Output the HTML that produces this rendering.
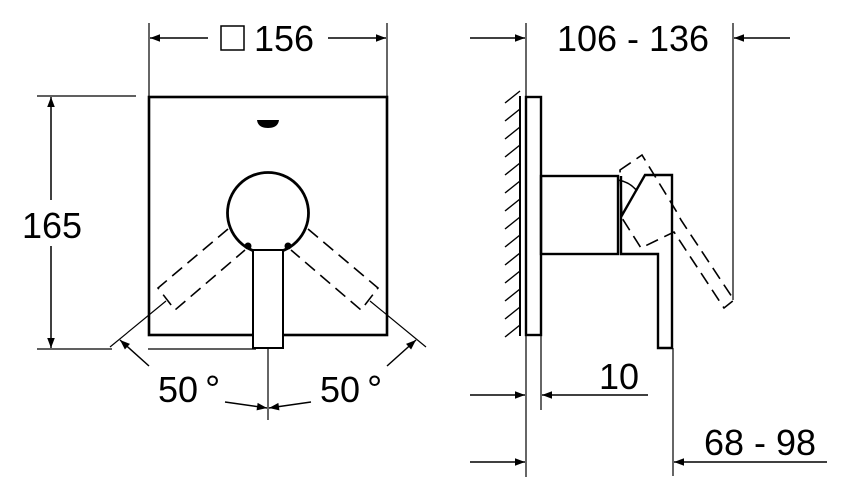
<!DOCTYPE html>
<html><head><meta charset="utf-8"><style>
html,body{margin:0;padding:0;background:#fff;}
svg{display:block;}
text{font-family:"Liberation Sans",sans-serif;fill:#000;}
</style></head><body>
<svg width="850" height="501" viewBox="0 0 850 501" xmlns="http://www.w3.org/2000/svg">
<defs>
<marker id="a" viewBox="0 0 10 10" refX="10" refY="5" markerWidth="28" markerHeight="10" markerUnits="userSpaceOnUse" orient="auto"><path d="M0,1.2 L10,5 L0,8.8 z" fill="#000"/></marker>
</defs>
<g stroke="#000" fill="none">
<line x1="149" y1="23" x2="149" y2="97" stroke-width="1.2"/>
<line x1="387" y1="23" x2="387" y2="97" stroke-width="1.2"/>
<line x1="208" y1="38" x2="150" y2="38" stroke-width="1.5" marker-end="url(#a)"/>
<line x1="328" y1="38" x2="386" y2="38" stroke-width="1.5" marker-end="url(#a)"/>
<rect x="221" y="26" width="23" height="24" stroke-width="1.5"/>
<line x1="37" y1="96" x2="136" y2="96" stroke-width="1.2"/>
<line x1="37" y1="349" x2="112" y2="349" stroke-width="1.2"/>
<line x1="148" y1="349" x2="256" y2="349" stroke-width="1.2"/>
<line x1="51" y1="200" x2="51" y2="97" stroke-width="1.5" marker-end="url(#a)"/>
<line x1="51" y1="246" x2="51" y2="348" stroke-width="1.5" marker-end="url(#a)"/>
<rect x="149" y="97" width="238" height="238" stroke-width="2.6"/>
<path d="M257,120 h22 q-1,8 -11,8 q-10,0 -11,-8z" fill="#000" stroke="none"/>
<circle cx="268" cy="213" r="40.5" stroke-width="2.8"/>
<rect x="253" y="250" width="30" height="98" fill="#fff" stroke-width="2"/>
<circle cx="248" cy="246" r="3.5" fill="#000" stroke="none"/>
<circle cx="288" cy="246" r="3.5" fill="#000" stroke="none"/>
<g stroke-dasharray="13,7" stroke-width="1.6">
<path d="M228,229 L158,288 L175,310 L245,250"/>
<path d="M308,229 L378,288 L361,310 L291,250"/>
</g>
<line x1="110" y1="347" x2="166" y2="301" stroke-width="1.2"/>
<line x1="426" y1="347" x2="370" y2="301" stroke-width="1.2"/>
<line x1="149" y1="366" x2="120" y2="340" stroke-width="1.5" marker-end="url(#a)"/>
<line x1="387" y1="366" x2="416" y2="340" stroke-width="1.5" marker-end="url(#a)"/>
<line x1="268" y1="348" x2="268" y2="420" stroke-width="1.2"/>
<line x1="225" y1="402" x2="267" y2="408" stroke-width="1.5" marker-end="url(#a)"/>
<line x1="311" y1="402" x2="269" y2="408" stroke-width="1.5" marker-end="url(#a)"/>

<line x1="526" y1="23" x2="526" y2="477" stroke-width="1.2"/>
<line x1="733" y1="23" x2="733" y2="300" stroke-width="1.2"/>
<line x1="541" y1="335" x2="541" y2="410" stroke-width="1.2"/>
<line x1="673" y1="348" x2="673" y2="476" stroke-width="1.2"/>
<line x1="470" y1="38" x2="525" y2="38" stroke-width="1.5" marker-end="url(#a)"/>
<line x1="790" y1="38" x2="734" y2="38" stroke-width="1.5" marker-end="url(#a)"/>
<line x1="470" y1="395" x2="525" y2="395" stroke-width="1.5" marker-end="url(#a)"/>
<line x1="648" y1="395" x2="542" y2="395" stroke-width="1.5" marker-end="url(#a)"/>
<line x1="470" y1="462" x2="525" y2="462" stroke-width="1.5" marker-end="url(#a)"/>
<line x1="827" y1="462" x2="674" y2="462" stroke-width="1.5" marker-end="url(#a)"/>
<line x1="520" y1="96" x2="520" y2="336" stroke-width="2"/>
<g stroke-width="1.4">
<path d="M505,103 l15,-12 M505,121 l15,-12 M505,139 l15,-12 M505,157 l15,-12 M505,175 l15,-12 M505,193 l15,-12 M505,211 l15,-12 M505,229 l15,-12 M505,247 l15,-12 M505,265 l15,-12 M505,283 l15,-12 M505,301 l15,-12 M505,319 l15,-12 M505,337 l15,-12"/>
</g>
<rect x="526" y="97" width="15" height="238" stroke-width="2.4"/>
<rect x="541" y="176" width="77" height="78" stroke-width="2.4"/>
<path d="M618,180 Q630,182 637,191" stroke-width="1.6"/>
<path d="M621,176 L621,254 L658,254 L658,348 L672,348 L672,175 L645,175 L621,217" stroke-width="2.4"/>
<path d="M620,170 L642,155 L678,214 L681,220 L734,300 L724,308 L674,232 L641,248 L622,218 Z" stroke-width="1.6" stroke-dasharray="13,7"/>
</g>
<text x="254" y="51" font-size="36">156</text>
<text x="52" y="238" font-size="36" text-anchor="middle">165</text>
<text x="158" y="402" font-size="36">50</text><text x="205" y="402" font-size="38">°</text>
<text x="320" y="402" font-size="36">50</text><text x="367" y="402" font-size="38">°</text>
<text x="633" y="51" font-size="36" text-anchor="middle">106 - 136</text>
<text x="619" y="389" font-size="36" text-anchor="middle">10</text>
<text x="760" y="455" font-size="36" text-anchor="middle">68 - 98</text>
</svg>
</body></html>
